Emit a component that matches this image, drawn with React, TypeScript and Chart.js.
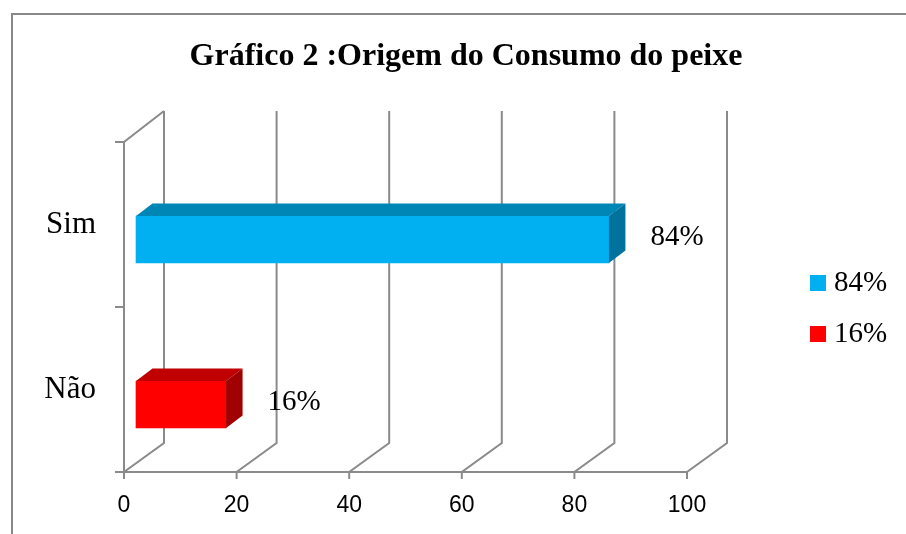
import React, { useEffect, useRef } from "react";
import { Chart, registerables } from "chart.js";

Chart.register(...registerables);

// ---- data ----
const chartTitle = "Gráfico 2 :Origem do Consumo do peixe";
const categories = ["Sim", "Não"];
const seriesNames = ["84%", "16%"];
const seriesValues = [84, 16];
const valueLabels = ["84%", "16%"];
const axisMin = 0;
const axisMax = 100;
const axisStep = 20;

// ---- styles ----
const FRONT = ["#00B0F0", "#FF0000"];
const TOP = ["#0086B5", "#C00000"];
const SIDE = ["#00729B", "#A00000"];
const GRID = "#8a8a8a";
const FRAME = "#888888";
const SERIF = "'Liberation Serif', 'Times New Roman', serif";
const SANS = "'Liberation Sans', Arial, sans-serif";

const WALL_DX = 40;
const WALL_DY_TOP = -31;
const WALL_DY_BOTTOM = -29;
const BAR_SHIFT_X = 12;
const BAR_SHIFT_Y = 15;
const BAR_DX = 16.5;
const BAR_DY = -12.5;

const threeD = {
  id: "threeD",
  beforeDraw(chart: any) {
    const { ctx, chartArea: a } = chart;
    const xs = chart.scales.x;
    const ys = chart.scales.y;
    ctx.save();
    // outer frame
    ctx.strokeStyle = FRAME;
    ctx.lineWidth = 2;
    ctx.beginPath();
    ctx.moveTo(12, chart.height + 10);
    ctx.lineTo(12, 14);
    ctx.lineTo(chart.width + 10, 14);
    ctx.stroke();

    // title
    ctx.fillStyle = "#000";
    ctx.font = `bold 32px ${SERIF}`;
    ctx.textAlign = "center";
    ctx.textBaseline = "alphabetic";
    ctx.fillText(chartTitle, 466, 65);

    // 3D grid
    ctx.strokeStyle = GRID;
    ctx.lineWidth = 2;
    const backTop = a.top + WALL_DY_TOP;
    const backBottom = a.bottom + WALL_DY_BOTTOM;
    xs.ticks.forEach((t: any) => {
      const px = xs.getPixelForValue(t.value);
      ctx.beginPath();
      ctx.moveTo(px, a.bottom + 7);
      ctx.lineTo(px, a.bottom);
      ctx.lineTo(px + WALL_DX, backBottom);
      ctx.lineTo(px + WALL_DX, backTop);
      ctx.stroke();
    });
    // front floor edge
    ctx.beginPath();
    ctx.moveTo(a.left - 9, a.bottom);
    ctx.lineTo(xs.getPixelForValue(axisMax), a.bottom);
    ctx.stroke();
    // left wall front edge + top diagonal
    ctx.beginPath();
    ctx.moveTo(a.left, a.bottom);
    ctx.lineTo(a.left, a.top);
    ctx.lineTo(a.left + WALL_DX, backTop);
    ctx.stroke();
    // category tick marks
    const n = ys.ticks.length;
    for (let i = 0; i <= n; i++) {
      const py = a.top + ((a.bottom - a.top) * i) / n;
      ctx.beginPath();
      ctx.moveTo(a.left - 9, py);
      ctx.lineTo(a.left, py);
      ctx.stroke();
    }
    ctx.restore();
  },
  beforeDatasetsDraw(chart: any) {
    chart.ctx.save();
    chart.ctx.translate(BAR_SHIFT_X, BAR_SHIFT_Y);
  },
  afterDatasetsDraw(chart: any) {
    const ctx = chart.ctx;
    chart.data.datasets.forEach((ds: any, i: number) => {
      const meta = chart.getDatasetMeta(i);
      meta.data.forEach((el: any, j: number) => {
        if (ds.data[j] == null) return;
        const { x, y, base, height } = el.getProps(["x", "y", "base", "height"], true);
        const top = y - height / 2;
        const bottom = y + height / 2;
        const left = Math.min(x, base);
        const right = Math.max(x, base);
        // top face
        ctx.fillStyle = TOP[i];
        ctx.beginPath();
        ctx.moveTo(left, top);
        ctx.lineTo(left + BAR_DX, top + BAR_DY);
        ctx.lineTo(right + BAR_DX, top + BAR_DY);
        ctx.lineTo(right, top);
        ctx.closePath();
        ctx.fill();
        // side face
        ctx.fillStyle = SIDE[i];
        ctx.beginPath();
        ctx.moveTo(right, top);
        ctx.lineTo(right + BAR_DX, top + BAR_DY);
        ctx.lineTo(right + BAR_DX, bottom + BAR_DY);
        ctx.lineTo(right, bottom);
        ctx.closePath();
        ctx.fill();
        // value label
        ctx.fillStyle = "#000";
        ctx.font = `29px ${SERIF}`;
        ctx.textAlign = "left";
        ctx.textBaseline = "middle";
        ctx.fillText(valueLabels[i], right + BAR_DX + 25, y - 2.5);
      });
    });
    ctx.restore();
  },
  afterDraw(chart: any) {
    const ctx = chart.ctx;
    ctx.save();
    // legend
    chart.data.datasets.forEach((ds: any, i: number) => {
      const ly = 275 + i * 51;
      ctx.fillStyle = ds.backgroundColor;
      ctx.fillRect(810, ly, 16, 16);
      ctx.fillStyle = "#000";
      ctx.font = `29px ${SERIF}`;
      ctx.textAlign = "left";
      ctx.textBaseline = "middle";
      ctx.fillText(ds.label, 834, ly + 8);
    });
    ctx.restore();
  },
};

export default function App() {
  const ref = useRef<HTMLCanvasElement>(null);
  useEffect(() => {
    if (!ref.current) return;
    const chart = new Chart(ref.current, {
      type: "bar",
      data: {
        labels: categories,
        datasets: seriesNames.map((name, i) => ({
          label: name,
          data: categories.map((_, j) => (j === i ? seriesValues[i] : null)),
          backgroundColor: FRONT[i],
          borderWidth: 0,
          barThickness: 47,
          grouped: false,
          clip: false as any,
        })),
      },
      options: {
        responsive: false,
        animation: false,
        indexAxis: "y",
        layout: { padding: { top: 142, right: 219, bottom: 0, left: 0 } },
        plugins: {
          legend: { display: false },
          title: { display: false },
          tooltip: { enabled: false },
        },
        scales: {
          x: {
            type: "linear",
            min: axisMin,
            max: axisMax,
            ticks: {
              stepSize: axisStep,
              padding: 20,
              color: "#000",
              font: { family: SANS, size: 23 },
            },
            grid: { display: false, drawTicks: false },
            border: { display: false },
            afterFit: (s: any) => {
              s.height = 62;
            },
          },
          y: {
            type: "category",
            offset: true,
            ticks: {
              padding: 28,
              color: "#000",
              font: { family: SERIF, size: 31 },
            },
            grid: { display: false, drawTicks: false },
            border: { display: false },
            afterFit: (s: any) => {
              s.width = 124;
            },
          },
        },
      } as any,
      plugins: [threeD],
    });
    return () => chart.destroy();
  }, []);
  return (
    <div style={{ position: "fixed", left: 0, top: 0, width: 906, height: 534, background: "#fff" }}>
      <canvas ref={ref} width={906} height={534} style={{ display: "block" }} />
    </div>
  );
}
